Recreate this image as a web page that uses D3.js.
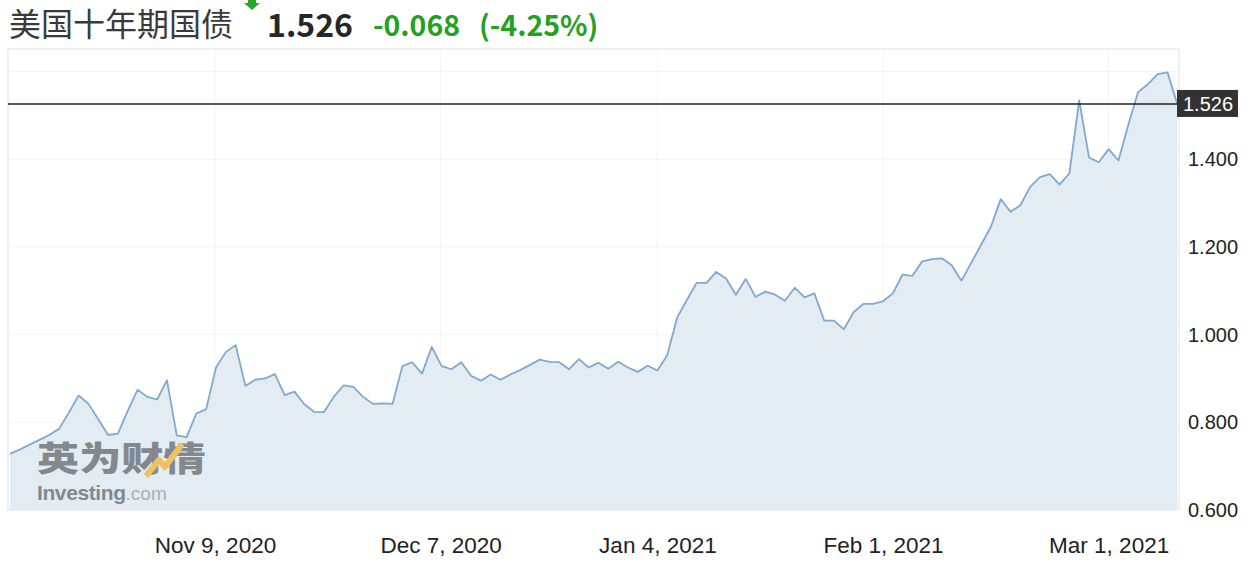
<!DOCTYPE html>
<html>
<head>
<meta charset="utf-8">
<script src="https://cdn.jsdelivr.net/npm/d3@7"></script>
<style>
  body { margin: 0; background: #fff; }
  svg { display: block; }
</style>
</head>
<body>
<svg id="chart"></svg>
<script>
// 10 year yield, one value per point
const yields = [
  0.728, 0.738, 0.749, 0.760, 0.771, 0.785, 0.822, 0.861, 0.842, 0.807,
  0.771, 0.774, 0.826, 0.874, 0.858, 0.852, 0.896, 0.770, 0.766, 0.820,
  0.830, 0.925, 0.960, 0.976, 0.883, 0.897, 0.900, 0.910, 0.862, 0.870,
  0.841, 0.824, 0.823, 0.858, 0.884, 0.881, 0.858, 0.842, 0.843, 0.842,
  0.928, 0.937, 0.911, 0.972, 0.928, 0.921, 0.937, 0.906, 0.895, 0.909,
  0.897, 0.909, 0.919, 0.931, 0.943, 0.938, 0.937, 0.921, 0.944, 0.925,
  0.936, 0.922, 0.938, 0.925, 0.915, 0.929, 0.918, 0.953, 1.038, 1.079,
  1.118, 1.118, 1.143, 1.128, 1.091, 1.127, 1.086, 1.098, 1.091, 1.077,
  1.107, 1.085, 1.094, 1.032, 1.032, 1.012, 1.051, 1.070, 1.070, 1.076,
  1.094, 1.137, 1.134, 1.167, 1.172, 1.174, 1.158, 1.123, 1.164, 1.205,
  1.246, 1.309, 1.280, 1.295, 1.337, 1.359, 1.366, 1.342, 1.368, 1.534,
  1.404, 1.393, 1.423, 1.397, 1.478, 1.553, 1.571, 1.594, 1.598, 1.526
];

// x axis ticks: point index where each date falls
const dateTickIdx = [20.9, 43.9, 66, 89, 112];
const dateTickLabels = ['Nov 9, 2020', 'Dec 7, 2020', 'Jan 4, 2021', 'Feb 1, 2021', 'Mar 1, 2021'];

const yTicks = [0.6, 0.8, 1.0, 1.2, 1.4];
const yGrid = [0.6, 0.8, 1.0, 1.2, 1.4, 1.6];

const lastValue = 1.526;
const change = '-0.068';
const changePct = '(-4.25%)';
const title = '美国十年期国债';

// layout
const W = 1252, H = 566;
const plot = {left: 8, right: 1179, top: 49, bottom: 510};

const svg = d3.select('#chart')
    .attr('width', W)
    .attr('height', H);

const x = d3.scaleLinear()
    .domain([0, yields.length - 1])
    .range([10, 1177.3]);

const y = d3.scaleLinear()
    .domain([0.6, 0.6 + (plot.bottom - plot.top) / 438.5])
    .range([plot.bottom, plot.top]);

// plot frame
svg.append('rect')
    .attr('x', plot.left)
    .attr('y', plot.top)
    .attr('width', plot.right - plot.left)
    .attr('height', plot.bottom - plot.top)
    .attr('fill', '#fff')
    .attr('stroke', '#ececec')
    .attr('stroke-width', 1.5);

// grid
svg.append('g')
    .selectAll('line')
    .data(yGrid)
    .enter()
    .append('line')
    .attr('x1', plot.left)
    .attr('x2', plot.right)
    .attr('y1', d => y(d))
    .attr('y2', d => y(d))
    .attr('stroke', '#f4f4f4')
    .attr('stroke-width', 1);

svg.append('g')
    .selectAll('line')
    .data(dateTickIdx)
    .enter()
    .append('line')
    .attr('x1', d => x(d))
    .attr('x2', d => x(d))
    .attr('y1', plot.top)
    .attr('y2', plot.bottom)
    .attr('stroke', '#f4f4f4')
    .attr('stroke-width', 1);

// area + line
const area = d3.area()
    .x((d, i) => x(i))
    .y0(plot.bottom)
    .y1(d => y(d));

svg.append('path')
    .datum(yields)
    .attr('d', area)
    .attr('fill', '#e3ecf3');

// watermark
const wm = svg.append('g').attr('opacity', 0.8);
wm.append('text')
    .attr('transform', 'translate(37,471) scale(1.24,1)')
    .attr('font-family', 'Noto Sans CJK SC')
    .attr('font-weight', 900)
    .attr('font-size', 34)
    .attr('fill', '#6a7076')
    .text('英为财情');
wm.append('path')
    .attr('d', 'M146,476 L159,460 L165,467 L182,444')
    .attr('fill', 'none')
    .attr('stroke', '#f2b740')
    .attr('stroke-width', 6)
    .attr('stroke-linejoin', 'round');
const wmText = wm.append('text')
    .attr('x', 37)
    .attr('y', 500)
    .attr('font-family', 'Liberation Sans, Arial, sans-serif')
    .attr('font-size', 21)
    .attr('fill', '#6a7076');
wmText.append('tspan').attr('font-weight', 'bold').attr('letter-spacing', -0.4).text('Investing');
wmText.append('tspan').attr('fill', '#9aa0a6').attr('font-size', 19).text('.com');

svg.append('path')
    .datum(yields)
    .attr('d', d3.line().x((d, i) => x(i)).y(d => y(d)))
    .attr('fill', 'none')
    .attr('stroke', '#80a8d0')
    .attr('stroke-width', 1.8)
    .attr('stroke-linejoin', 'round');

// current value line
svg.append('line')
    .attr('x1', plot.left)
    .attr('x2', plot.right)
    .attr('y1', y(lastValue))
    .attr('y2', y(lastValue))
    .attr('stroke', '#222')
    .attr('stroke-width', 1.5);

// y axis on the right
const yAxis = svg.append('g')
    .attr('transform', 'translate(' + (plot.right + 9) + ',0)')
    .call(d3.axisRight(y).tickValues(yTicks).tickFormat(d3.format('.3f')).tickSize(0).tickPadding(0));
yAxis.select('.domain').remove();
yAxis.selectAll('text')
    .attr('font-family', 'Liberation Sans, Arial, sans-serif')
    .attr('font-size', 20)
    .attr('fill', '#222');

// x axis
const xAxis = svg.append('g')
    .attr('transform', 'translate(0,' + plot.bottom + ')')
    .call(d3.axisBottom(x).tickValues(dateTickIdx)
        .tickFormat((d, i) => dateTickLabels[i]).tickSize(0).tickPadding(0));
xAxis.select('.domain').remove();
xAxis.selectAll('text')
    .attr('dy', 0)
    .attr('y', 43)
    .attr('font-family', 'Liberation Sans, Arial, sans-serif')
    .attr('font-size', 22.5)
    .attr('fill', '#222');

// last value badge
const badgeY = y(lastValue);
svg.append('rect')
    .attr('x', plot.right - 2)
    .attr('y', badgeY - 14)
    .attr('width', 61)
    .attr('height', 27)
    .attr('fill', '#333');
svg.append('text')
    .attr('x', plot.right + 29)
    .attr('y', badgeY + 7)
    .attr('text-anchor', 'middle')
    .attr('font-family', 'Liberation Sans, Arial, sans-serif')
    .attr('font-size', 20)
    .attr('fill', '#fff')
    .text(d3.format('.3f')(lastValue));

// header
svg.append('text')
    .attr('x', 9)
    .attr('y', 36)
    .attr('font-family', 'Noto Sans CJK SC')
    .attr('font-size', 32)
    .attr('fill', '#3a3a3a')
    .text(title);

svg.append('path')
    .attr('d', 'M248,-2 L256,-2 L256,3 L260,3 L252,10 L244,3 L248,3 Z')
    .attr('fill', '#2aa52a');

svg.append('text')
    .attr('x', 267)
    .attr('y', 37)
    .attr('font-family', 'Noto Sans CJK SC')
    .attr('font-weight', 'bold')
    .attr('font-size', 32)
    .attr('fill', '#262626')
    .text(d3.format('.3f')(lastValue));

svg.append('text')
    .attr('x', 373)
    .attr('y', 36)
    .attr('font-family', 'Noto Sans CJK SC')
    .attr('font-weight', 'bold')
    .attr('font-size', 28.5)
    .attr('fill', '#23a11f')
    .text(change);

svg.append('text')
    .attr('x', 479)
    .attr('y', 36)
    .attr('font-family', 'Noto Sans CJK SC')
    .attr('font-weight', 'bold')
    .attr('font-size', 28.5)
    .attr('fill', '#23a11f')
    .text(changePct);
</script>
</body>
</html>
